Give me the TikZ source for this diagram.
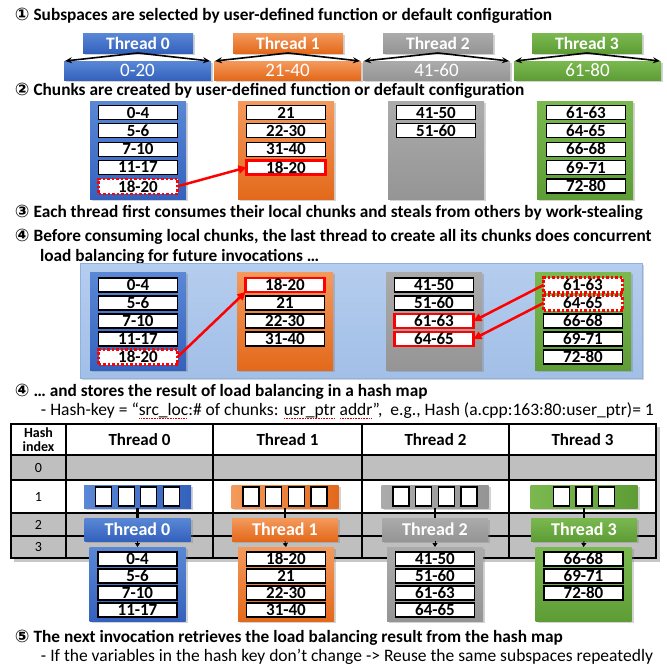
\documentclass[tikz,border=0pt]{standalone}
\usepackage{fontspec}
\setmainfont{Carlito}
\newfontfamily\circfont{DejaVu Sans}
\usetikzlibrary{shadows,arrows.meta,calc}

% Office-like palette
\definecolor{bluelt}{HTML}{5A88D6}
\definecolor{bluedk}{HTML}{3461BD}
\definecolor{orangelt}{HTML}{F49A5C}
\definecolor{orangedk}{HTML}{E3691B}
\definecolor{graylt}{HTML}{ABABAB}
\definecolor{graydk}{HTML}{959595}
\definecolor{greenlt}{HTML}{7BB850}
\definecolor{greendk}{HTML}{5E9D36}
\definecolor{panellt}{HTML}{B5CDEE}
\definecolor{paneldk}{HTML}{A2BFE7}
\definecolor{panelrim}{HTML}{8DB1E2}
\definecolor{cellgray}{HTML}{BFBFBF}

% red dotted mark under a word
\newcommand\spellmark[1]{\setbox0\hbox{#1}\rlap{\color{red!85!black}\raisebox{-2.8pt}{\leaders\hbox to 1.6pt{\hss\rule{0.7pt}{0.7pt}\hss}\hskip\wd0}}\box0\relax}

\begin{document}
\begin{tikzpicture}[x=1pt,y=-1pt,
  every node/.style={inner sep=0pt, outer sep=0pt},
  title/.style={anchor=west, font=\fontsize{17.3}{20}\selectfont\bfseries},
  note/.style={anchor=west, font=\fontsize{17.5}{20}\selectfont},
  shade/.style={drop shadow={opacity=0.35,shadow xshift=2pt,shadow yshift=-2pt}},
  lab/.style={shade, minimum width=110pt, minimum height=20pt, text=white,
    font=\fontsize{17.5}{18}\selectfont\bfseries},
  bar/.style={shade, minimum width=147pt, minimum height=19pt, text=white,
    font=\fontsize{19}{20}\selectfont},
  fill-blue/.style={top color=bluelt, bottom color=bluedk},
  fill-orange/.style={top color=orangelt, bottom color=orangedk},
  fill-gray/.style={top color=graylt, bottom color=graydk},
  fill-green/.style={top color=greenlt, bottom color=greendk},
  hfill-blue/.style={left color=bluelt, right color=bluedk},
  hfill-orange/.style={left color=orangelt, right color=orangedk},
  hfill-gray/.style={left color=graylt, right color=graydk},
  hfill-green/.style={left color=greenlt, right color=greendk},
  col/.style={shade, minimum width=96pt, minimum height=98pt},
  chunk/.style={draw=black, line width=1.1pt, fill=white, minimum width=79pt,
    minimum height=14pt, font=\fontsize{17}{17}\selectfont\bfseries},
  moved/.style={chunk, draw=red, line width=2.2pt},
  gone/.style={chunk, draw=red, line width=2.2pt, dash pattern=on 2.5pt off 2pt},
  steal/.style={draw=red, line width=2.5pt, -{Triangle[length=8pt,width=8pt]}},
  span/.style={draw=black, line width=1.6pt,
    {Stealth[length=7pt,width=6pt]}-{Stealth[length=7pt,width=6pt]}},
  slot/.style={draw=black, line width=1.1pt, fill=white, minimum width=16pt, minimum height=19pt},
  hbar/.style={shade, minimum width=107pt, minimum height=23pt},
  hlab/.style={shade, minimum width=106pt, minimum height=23pt, text=white,
    font=\fontsize{18}{19}\selectfont\bfseries},
  hcol/.style={shade, minimum width=96pt, minimum height=74pt},
  head/.style={font=\fontsize{17}{18}\selectfont\bfseries},
  idx/.style={font=\fontsize{14}{15}\selectfont},
]
\useasboundingbox (0,0) rectangle (667,670);

% ---------- step 1: subspaces ----------
\node[title] (t1) at (15,16) {{\circfont ①} Subspaces are selected by user-defined function or default configuration};
\foreach \i/\x/\bx/\rng/\c in {0/138/137.5/0-20/blue, 1/288/287.5/21-40/orange,
                              2/438/436.5/41-60/gray, 3/587/587.5/61-80/green} {
  \node[bar, fill-\c] (b\i) at (\bx,70.5) {\rng};
  \node[lab, fill-\c] (l\i) at (\x,43) {Thread \i};
  \draw[span] ($(b\i.north west)+(1,0)$) -- (l\i.south) -- ($(b\i.north east)+(-1,0)$);
}

% ---------- step 2: chunks ----------
\node[title] (t2) at (15,91) {{\circfont ②} Chunks are created by user-defined function or default configuration};
\node[col, fill-blue]   (c0) at (138,150) {};
\node[col, fill-orange] (c1) at (286,150) {};
\node[col, fill-gray]   (c2) at (436,150) {};
\node[col, fill-green]  (c3) at (585,150) {};

\node[chunk] (c0a) at (138,112.5) {0-4};
\node[chunk] (c0b) at (138,130.8) {5-6};
\node[chunk] (c0c) at (138,149.1) {7-10};
\node[chunk] (c0d) at (138,167.4) {11-17};
\node[gone, minimum height=15pt] (c0e) at (138,186.3) {18-20};

\node[chunk] (c1a) at (286,112.5) {21};
\node[chunk] (c1b) at (286,130.8) {22-30};
\node[chunk] (c1c) at (286,149.1) {31-40};
\node[moved] (c1d) at (286,167.4) {18-20};

\node[chunk] (c2a) at (436,112.5) {41-50};
\node[chunk] (c2b) at (436,130.8) {51-60};

\node[chunk] (c3a) at (586,112.5) {61-63};
\node[chunk] (c3b) at (586,130.8) {64-65};
\node[chunk] (c3c) at (586,149.1) {66-68};
\node[chunk] (c3d) at (586,167.4) {69-71};
\node[chunk] (c3e) at (586,186) {72-80};

\draw[steal] (c0e.east) -- (c1d.west);

% ---------- steps 3 and 4 ----------
\node[title] (t3) at (15,213) {{\circfont ③} Each thread first consumes their local chunks and steals from others by work-stealing};
\node[title] (t4) at (15,237) {{\circfont ④} Before consuming local chunks, the last thread to create all its chunks does concurrent};
\node[title] (t4b) at (40,257) {load balancing for future invocations …};

\node[shade, draw=panelrim, line width=0.8pt, top color=panellt, bottom color=paneldk,
      minimum width=562pt, minimum height=115pt] (panel) at (361,320.5) {};

\node[col, fill-blue]   (p0) at (138,321) {};
\node[col, fill-orange] (p1) at (285,321) {};
\node[col, fill-gray]   (p2) at (434,321) {};
\node[col, fill-green]  (p3) at (583,321) {};

\node[chunk] (p0a) at (138,285) {0-4};
\node[chunk] (p0b) at (138,303) {5-6};
\node[chunk] (p0c) at (138,321) {7-10};
\node[chunk] (p0d) at (138,339) {11-17};
\node[gone, minimum height=15pt] (p0e) at (138,357) {18-20};

\node[moved] (p1a) at (285,285) {18-20};
\node[chunk] (p1b) at (285,303) {21};
\node[chunk] (p1c) at (285,321) {22-30};
\node[chunk] (p1d) at (285,339) {31-40};

\node[chunk] (p2a) at (434,285) {41-50};
\node[chunk] (p2b) at (434,303) {51-60};
\node[moved] (p2c) at (434,321) {61-63};
\node[moved] (p2d) at (434,339) {64-65};

\node[gone, minimum height=15pt] (p3a) at (583,285) {61-63};
\node[gone, minimum height=15pt] (p3b) at (583,303) {64-65};
\node[chunk] (p3c) at (583,321) {66-68};
\node[chunk] (p3d) at (583,339) {69-71};
\node[chunk] (p3e) at (583,357) {72-80};

\draw[steal] (p0e.east) -- (p1a.south west);
\draw[steal] (p3a.west) -- (p2c.east);
\draw[steal] (p3b.west) -- (p2d.east);

% ---------- step 4: hash map ----------
\node[title] (t4c) at (15,392) {{\circfont ④} … and stores the result of load balancing in a hash map};
\node[note] (n4) at (41,411) {- Hash-key = “\spellmark{src\_loc}:\# of chunks: \spellmark{usr\_ptr} \spellmark{addr}”,\ \ e.g., Hash (a.cpp:163:80:user\_ptr)= 1};

% table body
\fill[black, opacity=0.22] (14,427) rectangle (660,562);
\fill[white] (11,424) rectangle (656,455);
\fill[cellgray] (11,455) rectangle (656,480);
\fill[white] (11,480) rectangle (656,513);
\fill[cellgray] (11,513) rectangle (656,558);
\draw[line width=1.1pt] (11,455) -- (656,455) (11,480) -- (656,480)
  (11,513) -- (656,513) (11,536) -- (656,536)
  (66,424) -- (66,558) (213,424) -- (213,558) (362,424) -- (362,558) (509,424) -- (509,558);
\draw[line width=1.8pt] (11,424) rectangle (656,558);

\node[font=\fontsize{14}{13.5}\selectfont\bfseries, align=center] (hh) at (38.5,439.5) {Hash\\index};
\node[head] (h0) at (139.5,440) {Thread 0};
\node[head] (h1) at (287.5,440) {Thread 1};
\node[head] (h2) at (435.5,440) {Thread 2};
\node[head] (h3) at (582.5,440) {Thread 3};
\node[idx] (i0) at (38.5,467.5) {0};
\node[idx] (i1) at (38.5,496.5) {1};
\node[idx] (i2) at (38.5,524.5) {2};
\node[idx] (i3) at (38.5,547) {3};

% hash entries in row 1
\foreach \i/\x/\c in {0/137.5/blue, 1/285/orange, 2/435/gray, 3/584/green} {
  \node[hbar, hfill-\c] (r\i) at (\x,496.5) {};
  \node[hlab, fill-\c] (g\i) at (\x,529.5) {Thread \i};
  \draw[line width=2.6pt] (r\i.south) -- (g\i.north);
}
\foreach \i in {0,1,2} {
  \foreach \k/\dx in {a/-34, b/-11.3, c/11.3, d/34} {
    \node[slot] (s\i\k) at ($(r\i.center)+(\dx,0)$) {};
  }
}
\foreach \k/\dx in {a/-22.7, b/0, c/22.7} {
  \node[slot] (s3\k) at ($(r3.center)+(\dx,0)$) {};
}

\node[hcol, fill-blue]   (k0) at (137.5,584) {};
\node[hcol, fill-orange] (k1) at (286,584) {};
\node[hcol, fill-gray]   (k2) at (435,584) {};
\node[hcol, fill-green]  (k3) at (583.5,584) {};
\foreach \i in {0,1,2,3} {
  \draw[line width=0.8pt, -{Triangle[length=4pt,width=5pt]}] (g\i.south) -- (k\i.north);
}

\node[chunk] (k0a) at (137.5,559) {0-4};
\node[chunk] (k0b) at (137.5,576) {5-6};
\node[chunk] (k0c) at (137.5,593) {7-10};
\node[chunk] (k0d) at (137.5,610) {11-17};
\node[chunk] (k1a) at (286,559) {18-20};
\node[chunk] (k1b) at (286,576) {21};
\node[chunk] (k1c) at (286,593) {22-30};
\node[chunk] (k1d) at (286,610) {31-40};
\node[chunk] (k2a) at (435,559) {41-50};
\node[chunk] (k2b) at (435,576) {51-60};
\node[chunk] (k2c) at (435,593) {61-63};
\node[chunk] (k2d) at (435,610) {64-65};
\node[chunk] (k3a) at (583.5,559) {66-68};
\node[chunk] (k3b) at (583.5,576) {69-71};
\node[chunk] (k3c) at (583.5,593) {72-80};

% ---------- step 5 ----------
\node[title] (t5) at (15,638) {{\circfont ⑤} The next invocation retrieves the load balancing result from the hash map};
\node[note] (n5) at (41,657) {- If the variables in the hash key don’t change -> Reuse the same subspaces repeatedly};
\end{tikzpicture}
\end{document}
